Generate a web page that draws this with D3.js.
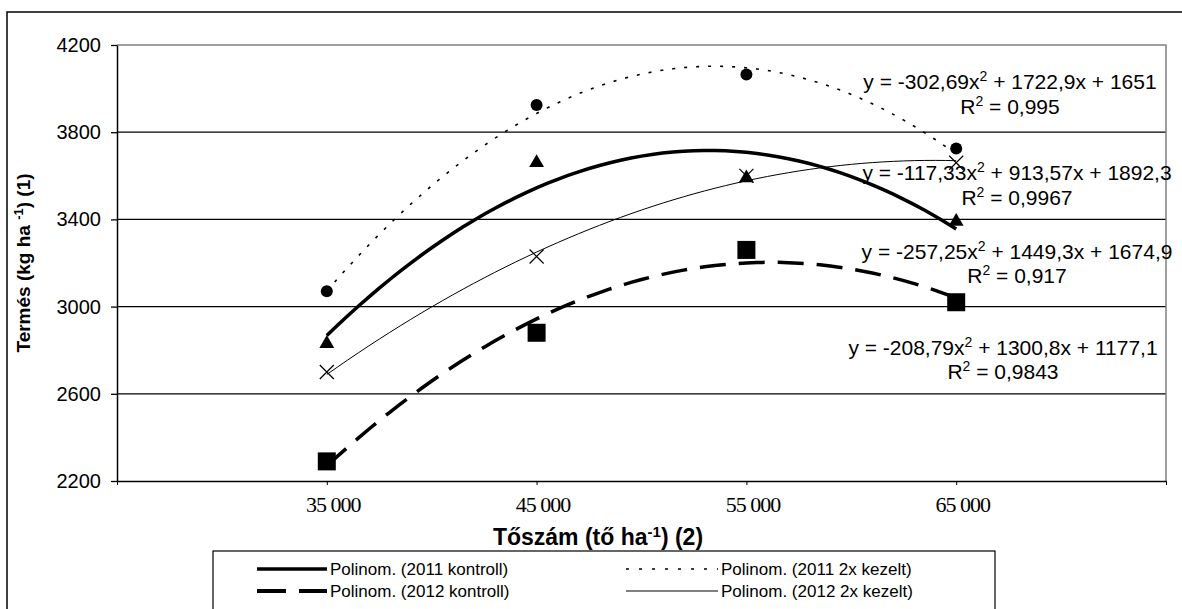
<!DOCTYPE html>
<html>
<head>
<meta charset="utf-8">
<script src="https://cdn.jsdelivr.net/npm/d3@7"></script>
<style>
  body { margin: 0; background: #fff; }
  svg { display: block; }
  text { font-family: "Liberation Sans", Arial, sans-serif; fill: #000; }
</style>
</head>
<body>
<div id="chart"></div>
<script>
// categories on the x axis (positions 1..4), ends left blank
const categories = ["35 000", "45 000", "55 000", "65 000"]
const yTicks = [2200, 2600, 3000, 3400, 3800, 4200]

// measured points
const kontroll2011 = [2830, 3660, 3590, 3390]
const kezelt2011 = [3070, 3925, 4065, 3725]
const kontroll2012 = [2290, 2880, 3260, 3020]
const kezelt2012 = [2700, 3230, 3600, 3660]

// trendline coefficients [a, b, c] as printed on the chart (y = a x^2 + b x + c)
const coef2011k = [-257.25, 1449.3, 1674.9]
const coef2011x = [-302.69, 1722.9, 1651]
const coef2012k = [-208.79, 1300.8, 1177.1]
const coef2012x = [-117.33, 913.57, 1892.3]

const eqLabels = [
  { a: "y = -302,69x", b: " + 1722,9x + 1651", r: "0,995" },
  { a: "y = -117,33x", b: " + 913,57x + 1892,3", r: "0,9967" },
  { a: "y = -257,25x", b: " + 1449,3x + 1674,9", r: "0,917" },
  { a: "y = -208,79x", b: " + 1300,8x + 1177,1", r: "0,9843" }
]

const W = 1182, H = 609
const plot = { left: 117, right: 1166, top: 45, bottom: 481 }

const svg = d3.select("#chart").append("svg")
  .attr("width", W).attr("height", H)

// outer frame
svg.append("rect")
  .attr("x", 7).attr("y", 12)
  .attr("width", W).attr("height", H)
  .attr("fill", "none").attr("stroke", "#000").attr("stroke-width", 1.5)

const x = d3.scaleLinear().domain([0, 5]).range([plot.left, plot.right])
const y = d3.scaleLinear().domain([2200, 4200]).range([plot.bottom, plot.top])

// grid lines
svg.append("g").selectAll("line")
  .data(yTicks.filter(d => d > 2200 && d < 4200))
  .join("line")
  .attr("x1", plot.left).attr("x2", plot.right)
  .attr("y1", d => y(d)).attr("y2", d => y(d))
  .attr("stroke", "#000").attr("stroke-width", 1.3)

// plot border top/right (grey)
svg.append("path")
  .attr("d", `M${plot.left},${plot.top}H${plot.right}V${plot.bottom}`)
  .attr("fill", "none").attr("stroke", "#808080").attr("stroke-width", 1.5)

// y axis
const yAxis = svg.append("g")
  .attr("transform", `translate(${plot.left},0)`)
  .call(d3.axisLeft(y).tickValues(yTicks).tickSize(6).tickSizeOuter(0).tickFormat(d3.format("d")))
yAxis.select(".domain").attr("stroke", "#000").attr("stroke-width", 1.5)
yAxis.selectAll(".tick line").attr("stroke", "#000").attr("stroke-width", 1.3)
yAxis.selectAll("text")
  .attr("x", -16)
  .style("font-family", "Liberation Sans, Arial, sans-serif")
  .style("font-size", "20px")

// x axis
const xAxis = svg.append("g")
  .attr("transform", `translate(0,${plot.bottom})`)
  .call(d3.axisBottom(x).tickValues([0, 1, 2, 3, 4, 5]).tickSize(4).tickSizeOuter(0)
    .tickFormat(d => categories[d - 1] || ""))
xAxis.select(".domain").attr("stroke", "#000").attr("stroke-width", 1.5)
xAxis.selectAll(".tick line").attr("stroke", "#000")
xAxis.selectAll("text")
  .attr("x", 6).attr("y", 31).attr("dy", null)
  .style("font-family", "Liberation Serif, Times New Roman, serif")
  .style("font-size", "22px")
  .style("letter-spacing", "-1px")

// axis titles
const yTitle = svg.append("text")
  .attr("transform", `translate(30,${(plot.top + plot.bottom) / 2}) rotate(-90)`)
  .attr("text-anchor", "middle")
  .style("font-size", "19px").style("font-weight", "bold")
yTitle.append("tspan").text("Termés (kg ha ")
yTitle.append("tspan").attr("baseline-shift", "super").style("font-size", "13px").text("-1")
yTitle.append("tspan").text(") (1)")

const xTitle = svg.append("text")
  .attr("x", 598).attr("y", 545)
  .attr("text-anchor", "middle")
  .style("font-size", "23px").style("font-weight", "bold")
xTitle.append("tspan").text("Tőszám (tő ha")
xTitle.append("tspan").attr("baseline-shift", "super").style("font-size", "15px").text("-1")
xTitle.append("tspan").text(") (2)")

// trendlines
const poly = c => t => c[0] * t * t + c[1] * t + c[2]
const steps = d3.range(1, 4.0001, 0.05)
const line = d3.line().x(d => x(d[0])).y(d => y(d[1]))

const series = [
  { coef: coef2011x, w: 1.6, dash: "3,9" },
  { coef: coef2011k, w: 3.5, dash: null },
  { coef: coef2012x, w: 1, dash: null },
  { coef: coef2012k, w: 3.5, dash: "26,13" }
]
series.forEach(s => {
  const f = poly(s.coef)
  svg.append("path")
    .datum(steps.map(t => [t, f(t)]))
    .attr("d", line)
    .attr("fill", "none")
    .attr("stroke", "#000")
    .attr("stroke-width", s.w)
    .attr("stroke-dasharray", s.dash)
})

// markers
const pos = [1, 2, 3, 4]
svg.append("g").selectAll("circle")
  .data(kezelt2011).join("circle")
  .attr("cx", (d, i) => x(pos[i])).attr("cy", d => y(d))
  .attr("r", 6).attr("fill", "#000")

svg.append("g").selectAll("path")
  .data(kontroll2011).join("path")
  .attr("d", d3.symbol(d3.symbolTriangle, 95))
  .attr("transform", (d, i) => `translate(${x(pos[i])},${y(d)})`)
  .attr("fill", "#000")

svg.append("g").selectAll("rect")
  .data(kontroll2012).join("rect")
  .attr("x", (d, i) => x(pos[i]) - 9).attr("y", d => y(d) - 9)
  .attr("width", 18).attr("height", 18)
  .attr("fill", "#000")

svg.append("g").selectAll("path")
  .data(kezelt2012).join("path")
  .attr("d", (d, i) => {
    const cx = x(pos[i]), cy = y(d), r = 7
    return `M${cx - r},${cy - r}L${cx + r},${cy + r}M${cx - r},${cy + r}L${cx + r},${cy - r}`
  })
  .attr("stroke", "#000").attr("stroke-width", 1.2).attr("fill", "none")

// equation labels
const eqPos = [
  { cx: 1010, y1: 89, y2: 114 },
  { cx: 1017, y1: 180, y2: 205 },
  { cx: 1017, y1: 259, y2: 283 },
  { cx: 1003, y1: 355, y2: 379 }
]
eqLabels.forEach((e, i) => {
  const p = eqPos[i]
  const t1 = svg.append("text").attr("x", p.cx).attr("y", p.y1)
    .attr("text-anchor", "middle").style("font-size", "21px")
  t1.append("tspan").text(e.a)
  t1.append("tspan").attr("baseline-shift", "super").style("font-size", "14px").text("2")
  t1.append("tspan").text(e.b)
  const t2 = svg.append("text").attr("x", p.cx).attr("y", p.y2)
    .attr("text-anchor", "middle").style("font-size", "21px")
  t2.append("tspan").text("R")
  t2.append("tspan").attr("baseline-shift", "super").style("font-size", "14px").text("2")
  t2.append("tspan").text(" = " + e.r)
})

// legend
const lg = svg.append("g")
lg.append("rect")
  .attr("x", 213).attr("y", 551).attr("width", 782).attr("height", 70)
  .attr("fill", "#fff").attr("stroke", "#000").attr("stroke-width", 1.2)

const legendItems = [
  { label: "Polinom. (2011 kontroll)", x0: 257, x1: 327, ty: 569, w: 3.5, dash: null },
  { label: "Polinom. (2011 2x kezelt)", x0: 626, x1: 718, ty: 569, w: 1.6, dash: "3,10" },
  { label: "Polinom. (2012 kontroll)", x0: 257, x1: 327, ty: 591, w: 4, dash: "29,13" },
  { label: "Polinom. (2012 2x kezelt)", x0: 626, x1: 718, ty: 591, w: 1, dash: null }
]
legendItems.forEach(it => {
  lg.append("line")
    .attr("x1", it.x0).attr("x2", it.x1).attr("y1", it.ty).attr("y2", it.ty)
    .attr("stroke", "#000").attr("stroke-width", it.w).attr("stroke-dasharray", it.dash)
  lg.append("text")
    .attr("x", it.x1 + 3).attr("y", it.ty + 6)
    .style("font-size", "17px")
    .text(it.label)
})
</script>
</body>
</html>
